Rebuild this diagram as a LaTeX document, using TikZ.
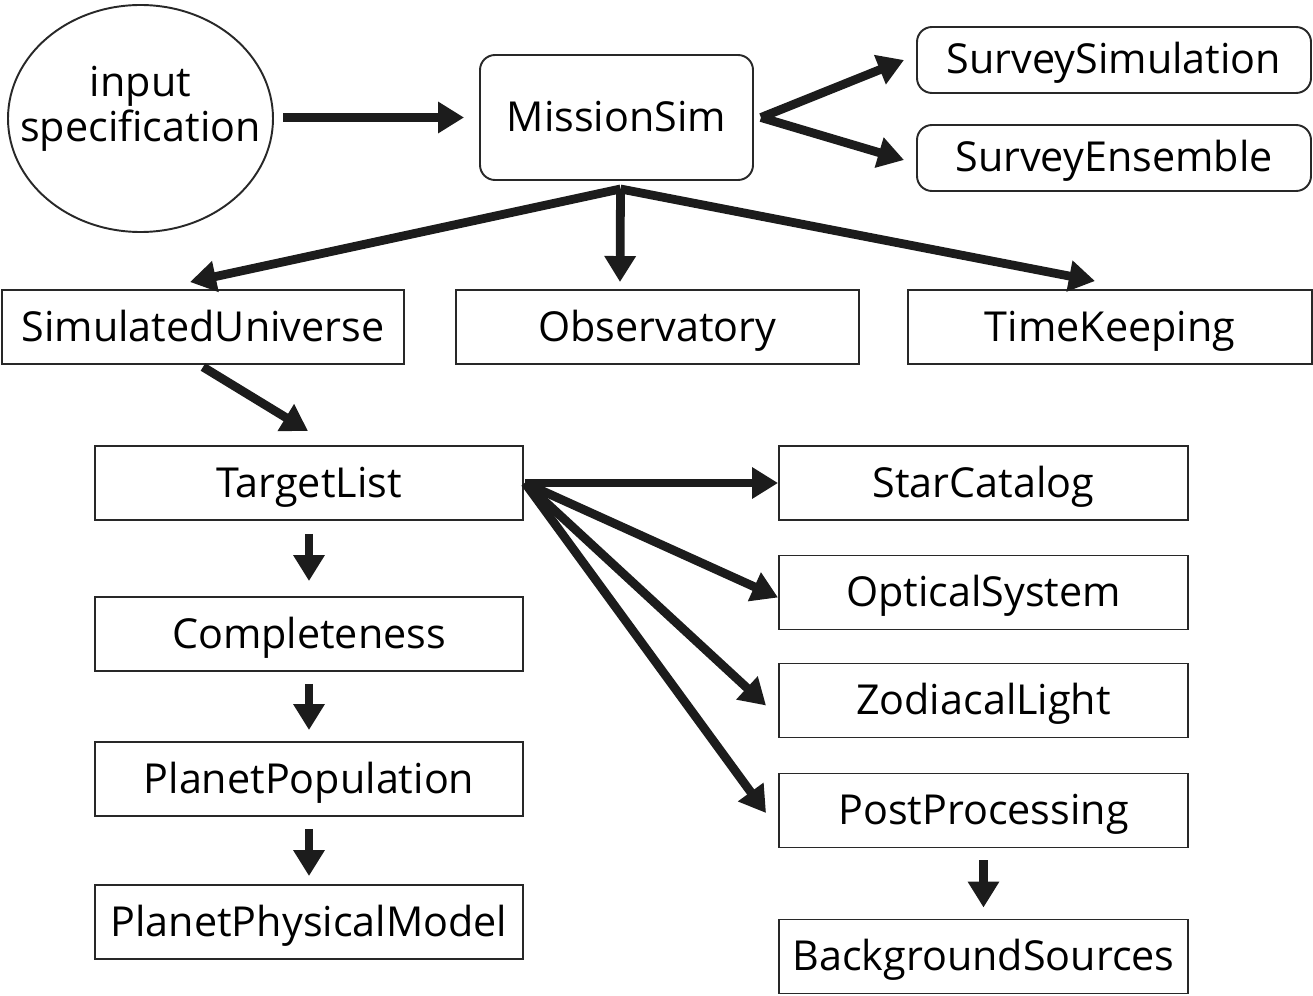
\documentclass[tikz,border=0pt]{standalone}
\usepackage{fontspec}
\setmainfont{Open Sans}
\usepackage{tikz}
\usetikzlibrary{arrows.meta, positioning, calc}
\definecolor{ArrowBlack}{RGB}{28, 28, 28}
\definecolor{EdgeGray}{RGB}{40, 40, 40}

\tikzset{
    modbox/.style={draw=EdgeGray, line width=1.1pt, rectangle, minimum height=1.48cm,
                   font=\fontsize{23.5}{26}\selectfont, inner sep=0pt,
                   text height=0.66cm, text depth=0.10cm},
    roundbox/.style={modbox, rounded corners=0.3cm},
    flow/.style={line width=5pt, color=ArrowBlack, -{Triangle[length=0.52cm, width=0.6cm]}},
}

\begin{document}
\begin{tikzpicture}
                    \useasboundingbox (0,0) rectangle (26.26,-19.92);

                    % Top row: input and MissionSim
                    \draw[draw=EdgeGray, line width=1.1pt] (2.81,-2.37) ellipse [x radius=2.65cm, y radius=2.27cm];
                    \node[align=center, font=\fontsize{23.5}{25.5}\selectfont, inner sep=0pt] (inspec) at (2.81,-2.17) {input\\specification};
                    \coordinate (inright) at (5.46,-2.35);
                    \node[roundbox, minimum width=5.46cm, minimum height=2.50cm] (missionsim) at (12.33,-2.35) {MissionSim};
                    \node[roundbox, minimum width=7.88cm, minimum height=1.32cm] (survsim) at (22.28,-1.20) {SurveySimulation};
                    \node[roundbox, minimum width=7.88cm, minimum height=1.32cm] (survens) at (22.28,-3.16) {SurveyEnsemble};

                    % Second row
                    \node[modbox, minimum width=8.04cm] (simuniv) at (4.06,-6.54) {SimulatedUniverse};
                    \node[modbox, minimum width=8.06cm] (observ) at (13.15,-6.54) {Observatory};
                    \node[modbox, minimum width=8.08cm] (timekeep) at (22.20,-6.54) {TimeKeeping};

                    % Left column
                    \node[modbox, minimum width=8.56cm] (targetlist) at (6.18,-9.66) {TargetList};
                    \node[modbox, minimum width=8.56cm] (complete) at (6.18,-12.68) {Completeness};
                    \node[modbox, minimum width=8.56cm] (planpop) at (6.18,-15.58) {PlanetPopulation};
                    \node[modbox, minimum width=8.56cm] (planphys) at (6.18,-18.44) {PlanetPhysicalModel};

                    % Right column
                    \node[modbox, minimum width=8.18cm] (starcat) at (19.67,-9.66) {StarCatalog};
                    \node[modbox, minimum width=8.18cm] (optsys) at (19.67,-11.85) {OpticalSystem};
                    \node[modbox, minimum width=8.18cm] (zodi) at (19.67,-14.01) {ZodiacalLight};
                    \node[modbox, minimum width=8.18cm] (postproc) at (19.67,-16.21) {PostProcessing};
                    \node[modbox, minimum width=8.18cm] (backsrc) at (19.67,-19.13) {BackgroundSources};

                    % Fan-out points
                    \coordinate (msright) at ($(missionsim.east)+(0.14,0)$);
                    \coordinate (msfan) at ($(missionsim.south)+(0.08,-0.16)$);
                    \coordinate (tlfan) at ($(targetlist.east)+(0.02,0)$);

                    % Arrows from the top
                    \draw[flow, shorten <=0.2cm, shorten >=0.3cm] (inright) -- (missionsim.west);
                    \draw[flow] (msright) -- ($(survsim.west)+(-0.24,0)$);
                    \draw[flow] (msright) -- ($(survens.west)+(-0.24,-0.04)$);
                    \draw[flow] (msfan) -- ($(simuniv.north)+(-0.26,0.14)$);
                    \draw[flow] (msfan) -- ($(observ.north)+(-0.75,0.14)$);
                    \draw[flow] (msfan) -- ($(timekeep.north)+(-0.30,0.16)$);
                    \draw[flow] ($(simuniv.south)+(0,-0.04)$) -- ($(targetlist.north)+(-0.02,0.28)$);

                    % Left column chain
                    \draw[flow, shorten <=0.26cm, shorten >=0.30cm] (targetlist) -- (complete);
                    \draw[flow, shorten <=0.24cm, shorten >=0.22cm] (complete) -- (planpop);
                    \draw[flow, shorten <=0.24cm, shorten >=0.16cm] (planpop) -- (planphys);

                    % Right fan from TargetList
                    \draw[flow] (tlfan) -- (starcat.west);
                    \draw[flow] (tlfan) -- ($(optsys.west)+(0,-0.1)$);
                    \draw[flow] (tlfan) -- ($(zodi.west)+(-0.24,-0.1)$);
                    \draw[flow] (tlfan) -- ($(postproc.west)+(-0.24,-0.05)$);
                    \draw[flow, shorten <=0.24cm, shorten >=0.22cm] (postproc) -- (backsrc);
                \end{tikzpicture}
\end{document}
